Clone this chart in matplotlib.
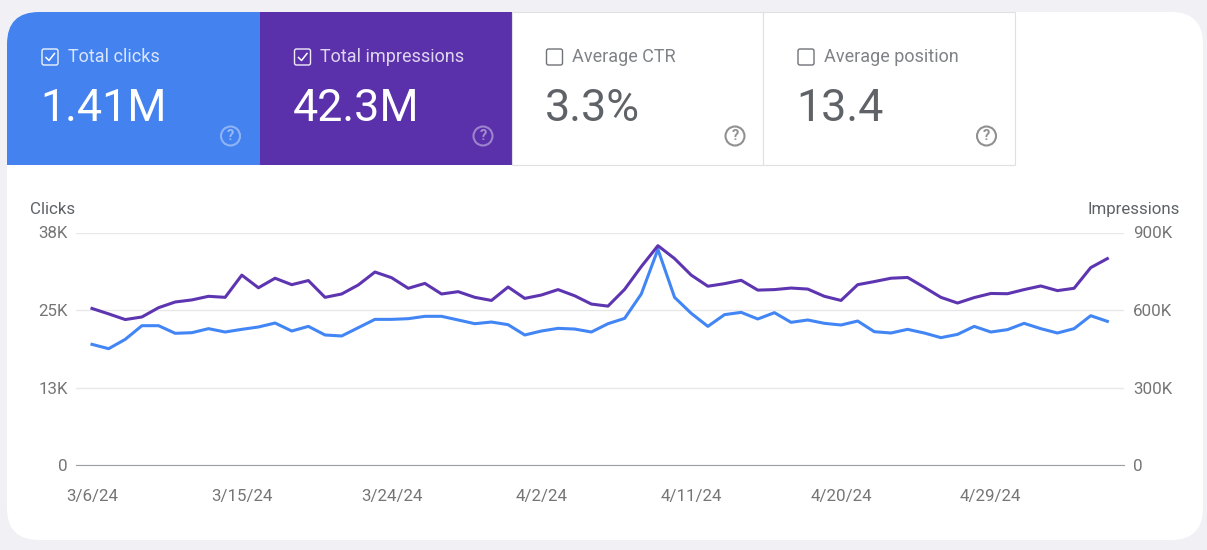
import matplotlib
matplotlib.use("Agg")
import matplotlib.pyplot as plt
import pandas as pd
from matplotlib.patches import Circle, FancyBboxPatch, Rectangle

plt.rcParams["font.family"] = ["Roboto", "DejaVu Sans"]

clicks = [19.46, 18.76, 20.27, 22.47, 22.47, 21.24, 21.34, 21.99, 21.45, 21.88,
          22.26, 22.90, 21.61, 22.36, 20.97, 20.81, 22.15, 23.49, 23.49, 23.60,
          23.98, 23.98, 23.39, 22.79, 23.06, 22.63, 20.97, 21.61, 22.04, 21.93,
          21.45, 22.79, 23.65, 27.58, 34.78, 27.04, 24.46, 22.36, 24.25, 24.62,
          23.55, 24.57, 23.01, 23.39, 22.85, 22.58, 23.22, 21.50, 21.29, 21.88,
          21.29, 20.54, 21.07, 22.36, 21.45, 21.83, 22.85, 21.99, 21.29, 21.99,
          24.08, 23.17]
impressions = [606, 585, 563, 573, 609, 631, 639, 653, 649, 735,
               686, 723, 698, 714, 649, 662, 697, 747, 725, 684,
               703, 662, 671, 649, 637, 689, 645, 658, 679, 655,
               623, 615, 680, 768, 849, 799, 735, 692, 702, 715,
               677, 679, 685, 681, 653, 637, 698, 710, 723, 726,
               688, 649, 627, 648, 664, 663, 679, 693, 675, 684,
               764, 799]
dates = pd.date_range("2024-03-06", periods=len(clicks))

date_ticks = pd.to_datetime(["2024-03-06", "2024-03-15", "2024-03-24", "2024-04-02",
                             "2024-04-11", "2024-04-20", "2024-04-29"])
date_labels = ["3/6/24", "3/15/24", "3/24/24", "4/2/24", "4/11/24", "4/20/24", "4/29/24"]
clicks_ticks = [0, 12.5, 25, 37.5]
clicks_labels = ["0", "13K", "25K", "38K"]
impr_ticks = [0, 300, 600, 900]
impr_labels = ["0", "300K", "600K", "900K"]

card_names = ["Total clicks", "Total impressions", "Average CTR", "Average position"]
card_values = ["1.41M", "42.3M", "3.3%", "13.4"]
card_selected = [True, True, False, False]

blue = "#4285f4"
purple = "#5e35b1"
W, H = 1207, 550

fig = plt.figure(figsize=(W / 100, H / 100), dpi=100, facecolor="#f1f0f5")

# backdrop in pixel coordinates
bg = fig.add_axes([0, 0, 1, 1])
bg.set_xlim(0, W)
bg.set_ylim(H, 0)
bg.axis("off")

panel = FancyBboxPatch((7, 12), 1196, 528, boxstyle="round,pad=0,rounding_size=32",
                       facecolor="white", edgecolor="none")
bg.add_patch(panel)

card_x = [7, 259.5, 511.5, 763]
card_w = [252.5, 252, 251.5, 252]
fills = ["#4482f0", "#5b31ab", "white", "white"]

for i, name in enumerate(card_names):
    x = card_x[i]
    on = card_selected[i]
    rect = Rectangle((x, 12), card_w[i], 153, facecolor=fills[i],
                     edgecolor="none" if on else "#e0e0e0", linewidth=0.8)
    bg.add_patch(rect)
    rect.set_clip_path(panel)

    fg = "white" if on else "#5f6368"
    box = FancyBboxPatch((x + 35, 49), 16, 16, boxstyle="round,pad=0,rounding_size=2",
                         facecolor="none", edgecolor="white" if on else "#5f6368",
                         linewidth=1.0, alpha=0.9)
    bg.add_patch(box)
    if on:
        bg.plot([x + 39, x + 42, x + 47.5], [57.5, 60.5, 53.5], color="white", lw=1.1)

    bg.text(x + 61, 62, name, color=fg, fontsize=13, va="baseline", ha="left", alpha=0.8)
    bg.text(x + 33.5, 121, card_values[i], color=fg, fontsize=32.3, va="baseline", ha="left")

    icon_color = "#ffffff" if on else "#757575"
    bg.add_patch(Circle((x + 223.5, 136), 9.5, facecolor="none", edgecolor=icon_color,
                        linewidth=1.5, alpha=0.4 if on else 0.8))
    bg.text(x + 223.5, 136.5, "?", color=icon_color, fontsize=10.5, ha="center", va="center",
            alpha=0.45 if on else 0.8, fontweight="bold")

bg.text(30, 214, "Clicks", color="#5f6368", fontsize=12.2, ha="left", va="baseline")
bg.text(1180, 214, "Impressions", color="#5f6368", fontsize=12.2, ha="right", va="baseline")

# chart, axes box pinned to the gridline span
left, right, top, bottom = 76, 1124, 232.5, 465
ax = fig.add_axes([left / W, 1 - bottom / H, (right - left) / W, (bottom - top) / H])
ax.patch.set_alpha(0)
ax2 = ax.twinx()

ax.set_xlim(dates[0] - pd.Timedelta(days=0.96), dates[0] + pd.Timedelta(days=62))
ax.set_ylim(0, 37.5)
ax2.set_ylim(0, 900)

ax.set_yticks(clicks_ticks, clicks_labels)
ax2.set_yticks(impr_ticks, impr_labels)
ax.set_xticks(date_ticks, date_labels)
ax.grid(axis="y", color="#e8e8e8", lw=1)
ax.set_axisbelow(True)

for a in (ax, ax2):
    for s in a.spines.values():
        s.set_visible(False)
ax.spines["bottom"].set_visible(True)
ax.spines["bottom"].set_color("#9aa0a6")

ax.tick_params(axis="y", length=0, pad=6, labelsize=12.2, labelcolor="#757575")
ax2.tick_params(axis="y", length=0, pad=6.5, labelsize=12.2, labelcolor="#757575")
ax.tick_params(axis="x", length=0, pad=17, labelsize=12.2, labelcolor="#757575")

ax.plot(dates, clicks, color=blue, lw=2.2, solid_joinstyle="round", clip_on=False)
ax2.plot(dates, impressions, color=purple, lw=2.2, solid_joinstyle="round", clip_on=False)

fig.savefig("out.png", dpi=100, facecolor=fig.get_facecolor())
plt.close(fig)
